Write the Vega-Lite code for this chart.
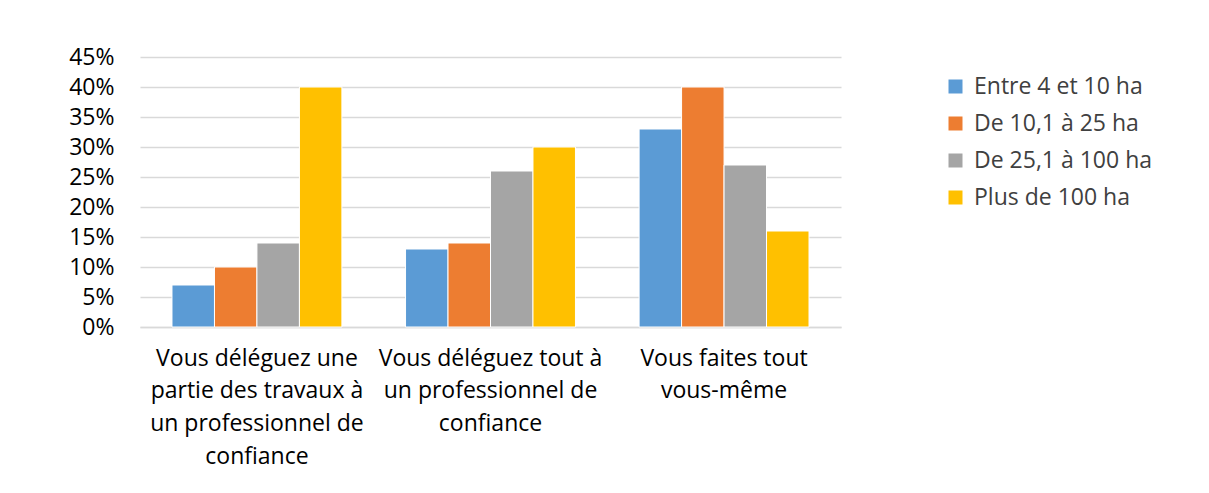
{
  "$schema": "https://vega.github.io/schema/vega-lite/v6.json",
  "autosize": "none",
  "width": 701,
  "height": 270,
  "padding": {"left": 140, "top": 57, "right": 368, "bottom": 166},
  "background": "white",
  "data": {
    "values": [
      {"mode": "A", "taille": "Entre 4 et 10 ha", "part": 0.07},
      {"mode": "A", "taille": "De 10,1 à 25 ha", "part": 0.10},
      {"mode": "A", "taille": "De 25,1 à 100 ha", "part": 0.14},
      {"mode": "A", "taille": "Plus de 100 ha", "part": 0.40},
      {"mode": "B", "taille": "Entre 4 et 10 ha", "part": 0.13},
      {"mode": "B", "taille": "De 10,1 à 25 ha", "part": 0.14},
      {"mode": "B", "taille": "De 25,1 à 100 ha", "part": 0.26},
      {"mode": "B", "taille": "Plus de 100 ha", "part": 0.30},
      {"mode": "C", "taille": "Entre 4 et 10 ha", "part": 0.33},
      {"mode": "C", "taille": "De 10,1 à 25 ha", "part": 0.40},
      {"mode": "C", "taille": "De 25,1 à 100 ha", "part": 0.27},
      {"mode": "C", "taille": "Plus de 100 ha", "part": 0.16}
    ]
  },
  "mark": {"type": "bar", "stroke": "white", "strokeWidth": 1},
  "encoding": {
    "x": {
      "field": "mode",
      "type": "nominal",
      "sort": ["A", "B", "C"],
      "scale": {"paddingInner": 0.2725, "paddingOuter": 0.137},
      "axis": {
        "title": null,
        "labelAngle": 0,
        "ticks": false,
        "domain": true,
        "domainColor": "#d9d9d9",
        "domainWidth": 1.5,
        "labelFont": "Open Sans",
        "labelFontSize": 23,
        "labelColor": "#000000",
        "labelPadding": 20,
        "labelLineHeight": 32.7,
        "labelLimit": 300,
        "labelExpr": "datum.value == 'A' ? ['Vous déléguez une', 'partie des travaux à', 'un professionnel de', 'confiance'] : datum.value == 'B' ? ['Vous déléguez tout à', 'un professionnel de', 'confiance'] : ['Vous faites tout', 'vous-même']"
      }
    },
    "xOffset": {
      "field": "taille",
      "type": "nominal",
      "sort": ["Entre 4 et 10 ha", "De 10,1 à 25 ha", "De 25,1 à 100 ha", "Plus de 100 ha"],
      "scale": {"paddingInner": 0, "paddingOuter": 0}
    },
    "y": {
      "field": "part",
      "type": "quantitative",
      "scale": {"domain": [0, 0.45]},
      "axis": {
        "title": null,
        "format": ".0%",
        "values": [0, 0.05, 0.1, 0.15, 0.2, 0.25, 0.3, 0.35, 0.4, 0.45],
        "ticks": false,
        "domain": false,
        "grid": true,
        "gridColor": "#d9d9d9",
        "gridWidth": 1.5,
        "labelFont": "Open Sans",
        "labelFontSize": 23,
        "labelColor": "#000000",
        "labelPadding": 26
      }
    },
    "color": {
      "field": "taille",
      "type": "nominal",
      "sort": ["Entre 4 et 10 ha", "De 10,1 à 25 ha", "De 25,1 à 100 ha", "Plus de 100 ha"],
      "scale": {
        "domain": ["Entre 4 et 10 ha", "De 10,1 à 25 ha", "De 25,1 à 100 ha", "Plus de 100 ha"],
        "range": ["#5B9BD5", "#ED7D31", "#A5A5A5", "#FFC000"]
      },
      "legend": {
        "title": null,
        "orient": "none",
        "legendX": 804,
        "legendY": 18,
        "symbolType": "square",
        "symbolSize": 196,
        "symbolStrokeWidth": 0,
        "symbolOpacity": 1,
        "labelFont": "Open Sans",
        "labelFontSize": 23,
        "labelColor": "#404040",
        "labelOffset": 7,
        "rowPadding": 13,
        "labelLimit": 300
      }
    }
  },
  "config": {"view": {"stroke": null}}
}
